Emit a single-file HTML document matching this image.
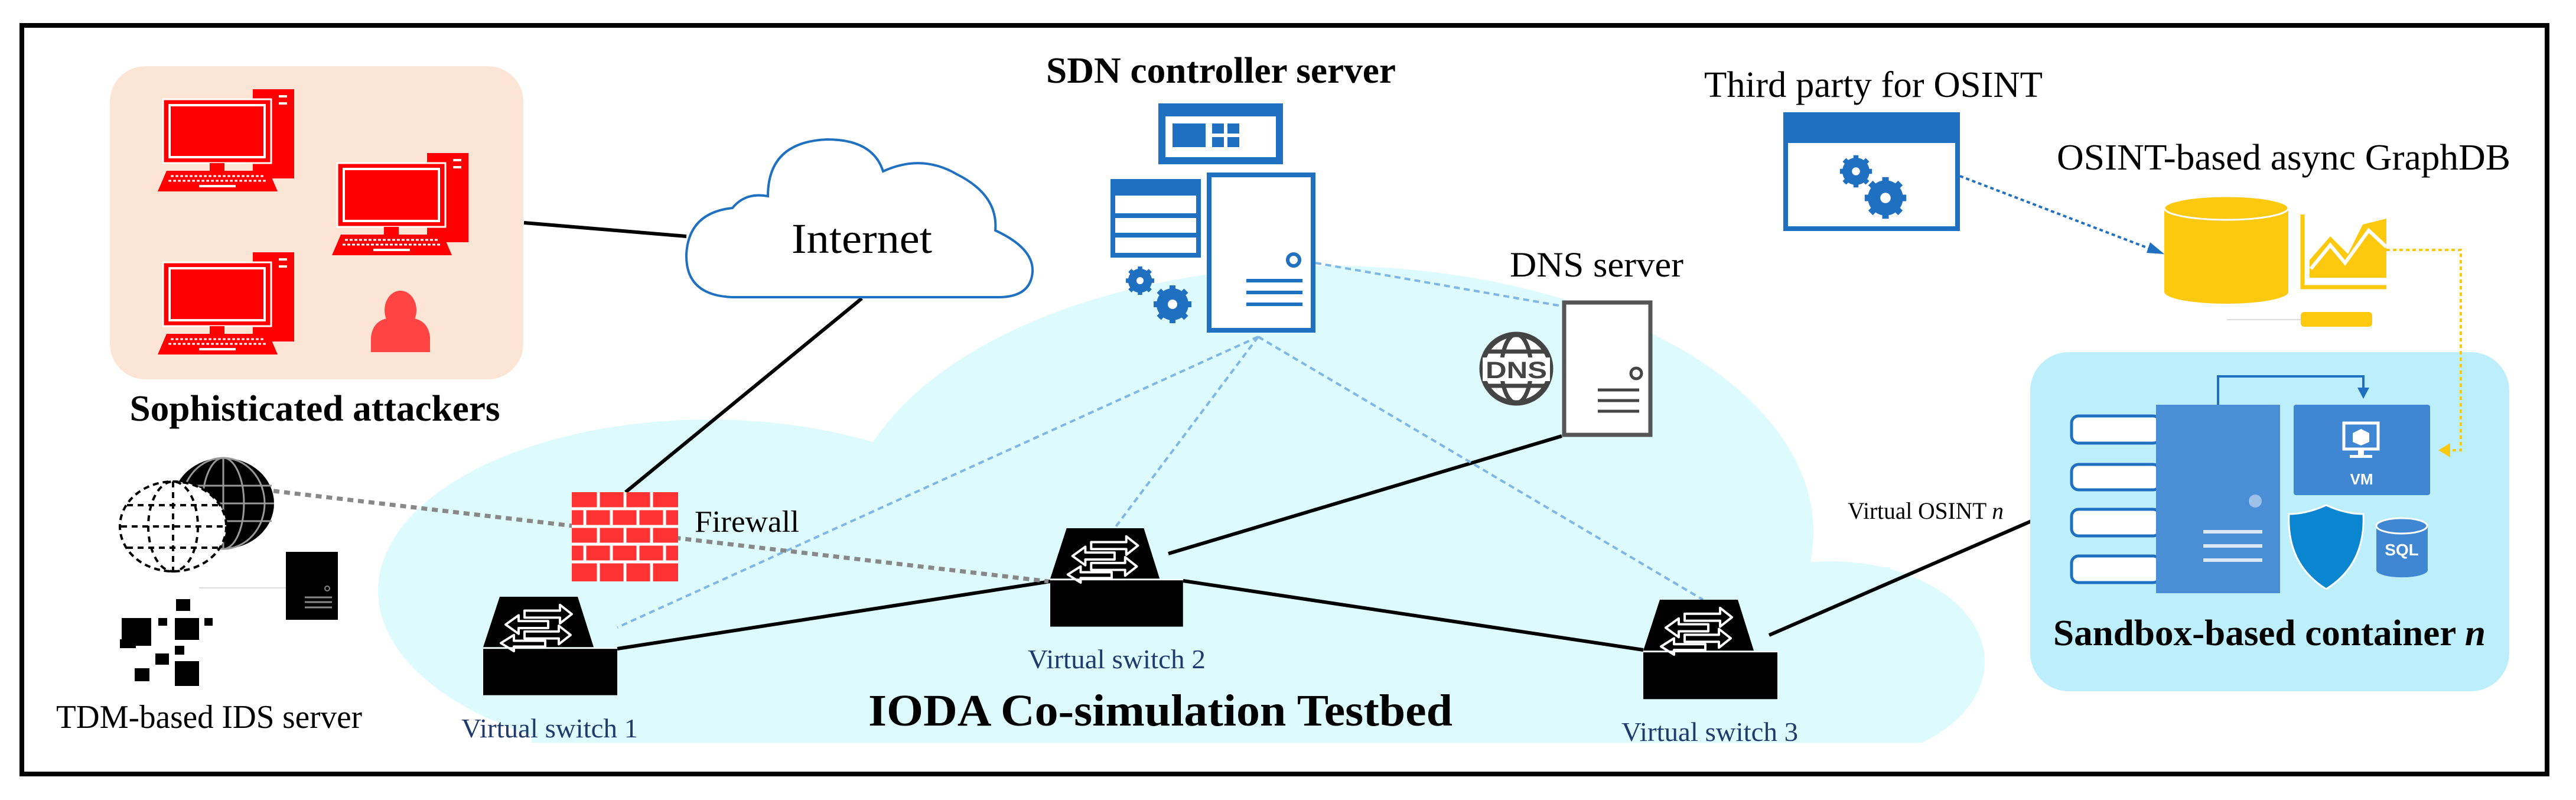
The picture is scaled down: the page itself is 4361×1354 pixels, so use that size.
<!DOCTYPE html>
<html><head><meta charset="utf-8"><style>
html,body{margin:0;padding:0;background:#fff;}
svg{display:block;}
text{font-family:"Liberation Serif",serif;}
</style></head><body>
<svg width="4361" height="1354" viewBox="0 0 4361 1354" xmlns="http://www.w3.org/2000/svg">
<defs>
<clipPath id="cb"><rect x="0" y="0" width="4361" height="1257"/></clipPath>
<g id="pc">
  <rect x="161" y="0" width="70" height="151" fill="#f00"/>
  <rect x="205" y="10" width="14" height="4" fill="#fff"/><rect x="205" y="22" width="14" height="4" fill="#fff"/>
  <rect x="9" y="17" width="183" height="108" fill="#f00" stroke="#fff" stroke-width="3"/>
  <rect x="20" y="27" width="161" height="88" fill="none" stroke="#fff" stroke-width="4"/>
  <rect x="88" y="125" width="25" height="13" fill="#f00"/>
  <polygon points="15,138 188,138 203,173 0,173" fill="#f00"/>
  <g stroke="#fff" stroke-width="3" stroke-dasharray="5 3"><line x1="22" y1="147" x2="180" y2="147"/><line x1="18" y1="155" x2="186" y2="155"/></g>
  <rect x="70" y="162" width="62" height="4" fill="#fff"/>
</g>
<g id="sw">
  <polygon points="28,0 160,0 187,87 0,87" fill="#000"/>
  <rect x="0" y="88" width="227" height="2" fill="#fff"/>
  <rect x="0" y="90" width="227" height="80" fill="#000"/>
  <g fill="none" stroke="#fff" stroke-width="4" stroke-linejoin="round">
    <path d="M70,24 L130,24 L130,14 L150,30 L130,46 L130,36 L70,36 Z"/>
    <path d="M110,42 L60,42 L60,32 L38,48 L60,64 L60,54 L110,54 Z"/>
    <path d="M70,60 L128,60 L128,50 L148,66 L128,82 L128,72 L70,72 Z"/>
    <path d="M105,76 L52,76 L52,66 L30,80 L52,94 L52,86 L105,86 Z"/>
  </g>
</g>
<g id="gear">
  <circle cx="0" cy="0" r="20" fill="none" stroke="#1f70c1" stroke-width="14"/>
  <g stroke="#1f70c1" stroke-width="10">
    <line x1="0" y1="-32" x2="0" y2="32"/><line x1="-32" y1="0" x2="32" y2="0"/>
    <line x1="-23" y1="-23" x2="23" y2="23"/><line x1="-23" y1="23" x2="23" y2="-23"/>
  </g>
  <circle cx="0" cy="0" r="8" fill="#fff"/>
</g>
</defs>

<g clip-path="url(#cb)" fill="#ddfbfd">
  <ellipse cx="1200" cy="1000" rx="560" ry="290"/>
  <ellipse cx="2250" cy="900" rx="820" ry="450"/>
  <ellipse cx="3100" cy="1120" rx="260" ry="170"/>
  <rect x="900" y="960" width="2300" height="300"/>
</g>

<rect x="37" y="43" width="4275" height="1267" fill="none" stroke="#000" stroke-width="8"/>

<rect x="186" y="112" width="700" height="530" rx="60" fill="#fde5d6"/>
<use href="#pc" x="267" y="151"/>
<use href="#pc" x="562" y="259"/>
<use href="#pc" x="267" y="427"/>
<ellipse cx="678" cy="525" rx="27" ry="33" fill="#f44"/>
<path d="M628,596 L628,570 Q632,540 662,538 Q678,556 694,538 Q724,540 728,570 L728,596 Z" fill="#f44"/>
<text x="533" y="712" font-size="62" font-weight="bold" text-anchor="middle" textLength="627" lengthAdjust="spacingAndGlyphs">Sophisticated attackers</text>

<g stroke="#000" stroke-width="6" fill="none">
  <line x1="887" y1="377" x2="1162" y2="400"/>
  <line x1="1459" y1="505" x2="1059" y2="833"/>
  <line x1="1045" y1="1098" x2="1778" y2="984"/>
  <line x1="1978" y1="937" x2="2644" y2="738"/>
  <line x1="2003" y1="983" x2="2782" y2="1100"/>
  <line x1="2995" y1="1075" x2="3510" y2="851"/>
</g>
<g stroke="#7fb6e6" stroke-width="4" stroke-dasharray="10 7" fill="none">
  <line x1="2130" y1="570" x2="1045" y2="1062"/>
  <line x1="2130" y1="570" x2="1887" y2="894"/>
  <line x1="2130" y1="570" x2="2883" y2="1015"/>
  <line x1="2227" y1="445" x2="2644" y2="518"/>
</g>
<line x1="463" y1="831" x2="1775" y2="984" stroke="#888" stroke-width="7" stroke-dasharray="10 8"/>

<path d="M1240,503 Q1160,500 1162,430 Q1166,360 1240,352 Q1262,325 1300,332 Q1300,240 1400,236 Q1478,236 1495,290 Q1560,260 1620,295 Q1690,330 1685,390 Q1750,420 1748,460 Q1745,503 1690,503 Z" fill="#fff" stroke="#1f70c1" stroke-width="4"/>
<text x="1459" y="428" font-size="72" text-anchor="middle" textLength="238" lengthAdjust="spacingAndGlyphs">Internet</text>

<text x="2067" y="140" font-size="62" font-weight="bold" text-anchor="middle" textLength="592" lengthAdjust="spacingAndGlyphs">SDN controller server</text>
<rect x="1961" y="175" width="211" height="103" fill="#1f70c1"/>
<rect x="1973" y="197" width="187" height="69" fill="#fff"/>
<rect x="1985" y="209" width="56" height="40" fill="#1f70c1"/>
<rect x="2052" y="209" width="20" height="17" fill="#1f70c1"/><rect x="2078" y="209" width="20" height="17" fill="#1f70c1"/>
<rect x="2052" y="232" width="20" height="17" fill="#1f70c1"/><rect x="2078" y="232" width="20" height="17" fill="#1f70c1"/>
<rect x="1884" y="307" width="145" height="125" fill="#fff" stroke="#1f70c1" stroke-width="8"/>
<rect x="1884" y="307" width="145" height="24" fill="#1f70c1"/>
<line x1="1884" y1="365" x2="2029" y2="365" stroke="#1f70c1" stroke-width="8"/>
<line x1="1884" y1="398" x2="2029" y2="398" stroke="#1f70c1" stroke-width="8"/>
<use href="#gear" transform="translate(1930,475) scale(0.75)"/>
<use href="#gear" transform="translate(1985,515) scale(1)"/>
<rect x="2047" y="296" width="176" height="263" fill="#fff" stroke="#1f70c1" stroke-width="8"/>
<circle cx="2190" cy="440" r="10" fill="none" stroke="#1f70c1" stroke-width="6"/>
<g stroke="#1f70c1" stroke-width="6"><line x1="2110" y1="475" x2="2205" y2="475"/><line x1="2110" y1="495" x2="2205" y2="495"/><line x1="2110" y1="515" x2="2205" y2="515"/></g>

<text x="2703" y="468" font-size="60" text-anchor="middle" textLength="294" lengthAdjust="spacingAndGlyphs">DNS server</text>
<rect x="2648" y="512" width="146" height="224" fill="#fff" stroke="#555" stroke-width="7"/>
<circle cx="2770" cy="632" r="9" fill="none" stroke="#444" stroke-width="5"/>
<g stroke="#444" stroke-width="5"><line x1="2705" y1="660" x2="2775" y2="660"/><line x1="2705" y1="678" x2="2775" y2="678"/><line x1="2705" y1="696" x2="2775" y2="696"/></g>
<circle cx="2567" cy="624" r="58" fill="#fff" stroke="#444" stroke-width="9"/>
<ellipse cx="2567" cy="624" rx="25" ry="58" fill="none" stroke="#444" stroke-width="7"/>
<line x1="2515" y1="595" x2="2619" y2="595" stroke="#444" stroke-width="7"/>
<line x1="2515" y1="653" x2="2619" y2="653" stroke="#444" stroke-width="7"/>
<rect x="2510" y="605" width="114" height="40" fill="#fff"/>
<text x="2567" y="640" font-size="40" font-weight="bold" fill="#444" text-anchor="middle" textLength="104" lengthAdjust="spacingAndGlyphs" style="font-family:'Liberation Sans',sans-serif">DNS</text>

<rect x="968" y="833" width="180" height="151" fill="#f33"/>
<g stroke="#fff" stroke-width="5">
  <line x1="968" y1="861" x2="1148" y2="861"/><line x1="968" y1="891" x2="1148" y2="891"/><line x1="968" y1="921" x2="1148" y2="921"/><line x1="968" y1="951" x2="1148" y2="951"/>
  <line x1="1013" y1="833" x2="1013" y2="861"/><line x1="1058" y1="833" x2="1058" y2="861"/><line x1="1103" y1="833" x2="1103" y2="861"/>
  <line x1="990" y1="861" x2="990" y2="891"/><line x1="1035" y1="861" x2="1035" y2="891"/><line x1="1080" y1="861" x2="1080" y2="891"/><line x1="1125" y1="861" x2="1125" y2="891"/>
  <line x1="1013" y1="891" x2="1013" y2="921"/><line x1="1058" y1="891" x2="1058" y2="921"/><line x1="1103" y1="891" x2="1103" y2="921"/>
  <line x1="990" y1="921" x2="990" y2="951"/><line x1="1035" y1="921" x2="1035" y2="951"/><line x1="1080" y1="921" x2="1080" y2="951"/><line x1="1125" y1="921" x2="1125" y2="951"/>
  <line x1="1013" y1="951" x2="1013" y2="984"/><line x1="1058" y1="951" x2="1058" y2="984"/><line x1="1103" y1="951" x2="1103" y2="984"/>
</g>
<text x="1176" y="900" font-size="52" textLength="177" lengthAdjust="spacingAndGlyphs">Firewall</text>

<use href="#sw" transform="translate(818,1010) scale(1,0.98)"/>
<use href="#sw" transform="translate(1778,894) scale(0.99,0.98)"/>
<use href="#sw" transform="translate(2782,1015) scale(1,0.99)"/>
<g fill="#1f3a6e" font-size="46">
  <text x="781" y="1248" textLength="299" lengthAdjust="spacingAndGlyphs">Virtual switch 1</text>
  <text x="1740" y="1131" textLength="301" lengthAdjust="spacingAndGlyphs">Virtual switch 2</text>
  <text x="2745" y="1254" textLength="299" lengthAdjust="spacingAndGlyphs">Virtual switch 3</text>
</g>
<text x="1470" y="1228" font-size="76" font-weight="bold" textLength="989" lengthAdjust="spacingAndGlyphs">IODA Co-simulation Testbed</text>

<ellipse cx="378" cy="852" rx="86" ry="77" fill="#000"/>
<g stroke="#999" stroke-width="3" fill="none">
  <ellipse cx="378" cy="852" rx="35" ry="77"/><ellipse cx="378" cy="852" rx="70" ry="77"/>
  <line x1="378" y1="775" x2="378" y2="929"/>
  <line x1="300" y1="822" x2="460" y2="822"/><line x1="292" y1="852" x2="464" y2="852"/><line x1="300" y1="882" x2="460" y2="882"/>
</g>
<ellipse cx="293" cy="891" rx="90" ry="76" fill="#fff" stroke="#000" stroke-width="4" stroke-dasharray="10 7"/>
<g stroke="#000" stroke-width="4" stroke-dasharray="10 8" fill="none">
  <ellipse cx="293" cy="891" rx="42" ry="76"/>
  <line x1="293" y1="815" x2="293" y2="967"/>
  <line x1="215" y1="855" x2="371" y2="855"/><line x1="205" y1="891" x2="381" y2="891"/><line x1="215" y1="927" x2="371" y2="927"/>
</g>
<line x1="337" y1="995" x2="484" y2="995" stroke="#ddd" stroke-width="2"/>
<rect x="484" y="934" width="88" height="115" fill="#000"/>
<circle cx="554" cy="996" r="4" fill="none" stroke="#888" stroke-width="2"/>
<g stroke="#888" stroke-width="3"><line x1="516" y1="1011" x2="562" y2="1011"/><line x1="516" y1="1019" x2="562" y2="1019"/><line x1="516" y1="1028" x2="562" y2="1028"/></g>
<g fill="#000">
  <rect x="206" y="1046" width="50" height="47"/><rect x="203" y="1082" width="27" height="15"/>
  <rect x="298" y="1014" width="24" height="20"/><rect x="268" y="1046" width="15" height="13"/>
  <rect x="296" y="1046" width="41" height="37"/><rect x="346" y="1046" width="14" height="13"/>
  <rect x="296" y="1093" width="16" height="15"/><rect x="263" y="1106" width="23" height="19"/>
  <rect x="228" y="1131" width="25" height="22"/><rect x="296" y="1119" width="41" height="42"/>
</g>
<text x="95" y="1232" font-size="56" textLength="518" lengthAdjust="spacingAndGlyphs">TDM-based IDS server</text>

<text x="2885" y="164" font-size="62" textLength="573" lengthAdjust="spacingAndGlyphs">Third party for OSINT</text>
<rect x="3023" y="194" width="291" height="193" fill="#fff" stroke="#1f70c1" stroke-width="8"/>
<rect x="3019" y="190" width="299" height="52" fill="#1f70c1"/>
<use href="#gear" transform="translate(3142,290) scale(0.85)"/>
<use href="#gear" transform="translate(3192,335) scale(1.1)"/>
<line x1="3318" y1="298" x2="3650" y2="425" stroke="#1f70c1" stroke-width="4" stroke-dasharray="6 5"/>
<polygon points="3664,430 3640,410 3634,428" fill="#1f70c1"/>

<text x="3482" y="287" font-size="62" textLength="768" lengthAdjust="spacingAndGlyphs">OSINT-based async GraphDB</text>
<path d="M3664,352 L3664,494 A105,20 0 0 0 3874,494 L3874,352 Z" fill="#fdc90f"/>
<ellipse cx="3769" cy="352" rx="105" ry="20" fill="#fdc90f" stroke="#fff" stroke-width="3"/>
<polyline points="3898,363 3898,486 4040,486" fill="none" stroke="#fdc90f" stroke-width="7"/>
<polygon points="3910,470 3910,440 3945,400 3975,430 4000,380 4040,370 4040,470" fill="#fdc90f"/>
<polyline points="3912,455 3945,415 3970,445 4010,390 4040,418" fill="none" stroke="#fff" stroke-width="6"/>
<rect x="3895" y="528" width="121" height="25" rx="6" fill="#fdc90f"/>
<line x1="3770" y1="541" x2="3895" y2="541" stroke="#ddd" stroke-width="2"/>

<rect x="3437" y="596" width="811" height="574" rx="65" fill="#bdeefc"/>
<polyline points="4040,423 4166,423 4166,762 4140,762" fill="none" stroke="#fdc90f" stroke-width="4" stroke-dasharray="6 5"/>
<polygon points="4128,762 4148,750 4148,774" fill="#fdc90f"/>
<g fill="#fff" stroke="#1f70c1" stroke-width="5">
  <rect x="3507" y="704" width="150" height="46" rx="12"/><rect x="3507" y="786" width="150" height="43" rx="12"/>
  <rect x="3507" y="862" width="150" height="45" rx="12"/><rect x="3507" y="941" width="150" height="45" rx="12"/>
</g>
<rect x="3650" y="685" width="210" height="319" fill="#4a8fd6"/>
<circle cx="3818" cy="848" r="11" fill="#9cc0e8"/>
<g stroke="#dbe8f7" stroke-width="6"><line x1="3730" y1="900" x2="3830" y2="900"/><line x1="3730" y1="924" x2="3830" y2="924"/><line x1="3730" y1="948" x2="3830" y2="948"/></g>
<polyline points="3755,685 3755,637 4001,637 4001,660" fill="none" stroke="#1f70c1" stroke-width="4"/>
<polygon points="3991,656 4011,656 4001,675" fill="#1f70c1"/>
<rect x="3883" y="685" width="231" height="153" rx="4" fill="#3f86d3"/>
<rect x="3968" y="716" width="58" height="44" fill="none" stroke="#fff" stroke-width="5"/>
<rect x="3992" y="760" width="10" height="12" fill="#fff"/><rect x="3978" y="770" width="38" height="5" fill="#fff"/>
<polygon points="3997,726 4011,733 4011,748 3997,754 3983,748 3983,733" fill="#fff"/>
<text x="3998" y="820" font-size="26" font-weight="bold" fill="#fff" text-anchor="middle" style="font-family:'Liberation Sans',sans-serif">VM</text>
<path d="M3875,870 Q3905,870 3938,855 Q3971,870 4001,870 Q4005,955 3938,997 Q3871,955 3875,870 Z" fill="#0a86d0" stroke="#fff" stroke-width="3"/>
<path d="M4023,890 L4023,965 A43,12 0 0 0 4110,965 L4110,890 Z" fill="#3f86d3"/>
<ellipse cx="4066" cy="890" rx="43" ry="13" fill="#3f86d3" stroke="#fff" stroke-width="3"/>
<text x="4066" y="940" font-size="28" font-weight="bold" fill="#fff" text-anchor="middle" style="font-family:'Liberation Sans',sans-serif">SQL</text>
<text x="3476" y="1092" font-size="62" font-weight="bold" textLength="732" lengthAdjust="spacingAndGlyphs">Sandbox-based container <tspan font-style="italic">n</tspan></text>
<text x="3128" y="878" font-size="40" textLength="264" lengthAdjust="spacingAndGlyphs">Virtual OSINT <tspan font-style="italic">n</tspan></text>
</svg>
</body></html>
